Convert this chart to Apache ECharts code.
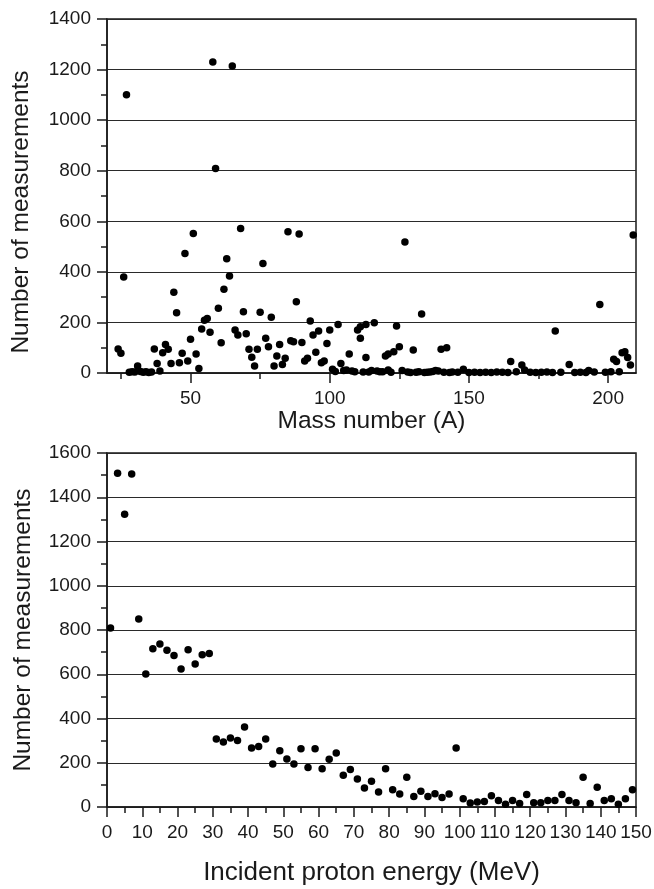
<!DOCTYPE html>
<html>
<head>
<meta charset="utf-8">
<script src="https://cdn.jsdelivr.net/npm/echarts@6/dist/echarts.min.js"></script>
<style>
  html, body { margin: 0; padding: 0; background: #fff; }
  #chart { width: 654px; height: 889px; }
</style>
</head>
<body>
<div id="chart"></div>
<script>
// Top panel: measurements per mass number
const massNumber = [
  24, 25, 26, 27, 28, 29, 30, 31, 32, 33, 34, 35, 36, 37, 38, 39, 40, 41, 42, 43,
  44, 45, 46, 47, 48, 49, 50, 51, 52, 53, 54, 55, 56, 57, 58, 59, 60, 61, 62, 63,
  64, 65, 66, 67, 68, 69, 70, 71, 72, 73, 74, 75, 76, 77, 78, 79, 80, 81, 82, 83,
  84, 85, 86, 87, 88, 89, 90, 91, 92, 93, 94, 95, 96, 97, 98, 99, 100, 101, 102, 103,
  104, 105, 106, 107, 108, 109, 110, 111, 111, 112, 113, 113, 114, 115, 116, 117, 118, 119, 120, 121,
  121, 122, 123, 124, 125, 126, 127, 128, 129, 130, 131, 132, 133, 134, 135, 136, 137, 138, 139, 140,
  141, 142, 143, 144, 146, 148, 150, 152, 154, 156, 158, 160, 162, 164, 165, 167, 169, 170, 172, 174,
  176, 178, 180, 181, 183, 186, 188, 190, 192, 193, 195, 197, 199, 201, 202, 203, 204, 205, 206, 207,
  208, 209
];
const massCount = [
  95, 78, 380, 1100, 3, 5, 4, 28, 6, 3, 5, 2, 4, 95, 38, 8, 80, 113, 94, 38,
  319, 238, 41, 78, 473, 47, 133, 552, 75, 18, 174, 209, 216, 161, 1230, 809, 256, 120, 331, 452,
  384, 1214, 170, 150, 571, 242, 155, 94, 62, 28, 94, 240, 433, 137, 104, 220, 28, 67, 113, 34,
  58, 559, 128, 124, 282, 550, 121, 47, 58, 206, 150, 82, 166, 41, 47, 117, 170, 15, 6, 192,
  38, 10, 12, 75, 8, 5, 170, 183, 137, 4, 192, 61, 4, 10, 199, 8, 5, 5, 67, 75,
  12, 3, 84, 186, 104, 10, 518, 4, 2, 91, 3, 5, 233, 2, 3, 4, 6, 10, 8, 94,
  3, 100, 2, 4, 3, 15, 2, 3, 2, 3, 2, 4, 3, 2, 45, 5, 32, 12, 3, 2,
  3, 4, 2, 166, 3, 34, 2, 3, 2, 10, 4, 271, 3, 5, 54, 45, 5, 80, 84, 61,
  32, 546
];

// Bottom panel: measurements per incident proton energy bin
const energy = [
  1, 3, 5, 7, 9, 11, 13, 15, 17, 19, 21, 23, 25, 27, 29, 31, 33, 35, 37, 39,
  41, 43, 45, 47, 49, 51, 53, 55, 57, 59, 61, 63, 65, 67, 69, 71, 73, 75, 77, 79,
  81, 83, 85, 87, 89, 91, 93, 95, 97, 99, 101, 103, 105, 107, 109, 111, 113, 115, 117, 119,
  121, 123, 125, 127, 129, 131, 133, 135, 137, 139, 141, 143, 145, 147, 149
];
const energyCount = [
  809, 1508, 1323, 1505, 850, 601, 715, 737, 708, 685, 624, 711, 646, 688, 694, 307, 294, 312, 301, 362,
  267, 274, 307, 194, 254, 217, 194, 263, 179, 263, 173, 216, 244, 143, 169, 127, 86, 116, 68, 173,
  78, 59, 134, 48, 71, 48, 60, 43, 59, 267, 37, 18, 23, 25, 51, 29, 12, 29, 16, 57,
  19, 19, 29, 29, 57, 29, 19, 134, 16, 89, 29, 37, 12, 37, 78
];

const massMajorTicks = [50, 100, 150, 200];
const massMinorTicks = [25, 75, 125, 175];

const FONT = 'Liberation Sans, Arial, sans-serif';
const INK = '#1a1a1a';

const axisLine = { show: true, lineStyle: { color: INK, width: 1.5 } };
const tickLabel = { color: INK, fontFamily: FONT, fontSize: 19, formatter: v => String(v) };
const gridLine = { show: true, lineStyle: { color: '#2a2a2a', width: 1.2 } };

const chart = echarts.init(document.getElementById('chart'), null, { renderer: 'canvas' });

chart.setOption({
  backgroundColor: '#fff',
  animation: false,
  grid: [
    { left: 107, right: 18, top: 19, height: 354, containLabel: false, outerBoundsMode: 'none',
      show: true, borderColor: INK, borderWidth: 1.5 },
    { left: 107, right: 18, top: 453, height: 354, containLabel: false, outerBoundsMode: 'none',
      show: true, borderColor: INK, borderWidth: 1.5 }
  ],
  xAxis: [
    {
      gridIndex: 0, type: 'value', min: 20, max: 210, position: 'bottom',
      axisLine: axisLine,
      axisTick: { show: true, customValues: massMajorTicks, length: 10, lineStyle: { color: INK, width: 1.5 } },
      axisLabel: Object.assign({ customValues: massMajorTicks, margin: 16 }, tickLabel),
      splitLine: { show: false },
      name: 'Mass number (A)', nameLocation: 'middle', nameGap: 35,
      nameTextStyle: { color: INK, fontFamily: FONT, fontSize: 24.5 }
    },
    {
      gridIndex: 0, type: 'value', min: 20, max: 210, position: 'bottom',
      axisLine: { show: false },
      axisTick: { show: true, customValues: massMinorTicks, length: 6, lineStyle: { color: INK, width: 1.5 } },
      axisLabel: { show: false },
      splitLine: { show: false }
    },
    {
      gridIndex: 1, type: 'value', min: 0, max: 150, interval: 10,
      axisLine: axisLine,
      axisTick: { show: true, length: 10, lineStyle: { color: INK, width: 1.5 } },
      minorTick: { show: true, splitNumber: 2, length: 6, lineStyle: { color: INK, width: 1.5 } },
      axisLabel: Object.assign({ margin: 16 }, tickLabel),
      splitLine: { show: false },
      name: 'Incident proton energy (MeV)', nameLocation: 'middle', nameGap: 53,
      nameTextStyle: { color: INK, fontFamily: FONT, fontSize: 26 }
    }
  ],
  yAxis: [
    {
      gridIndex: 0, type: 'value', min: 0, max: 1400, interval: 200,
      axisLine: axisLine,
      axisTick: { show: true, length: 10, lineStyle: { color: INK, width: 1.5 } },
      minorTick: { show: true, splitNumber: 2, length: 6, lineStyle: { color: INK, width: 1.5 } },
      axisLabel: Object.assign({ margin: 16 }, tickLabel),
      splitLine: gridLine,
      name: 'Number of measurements', nameLocation: 'middle', nameGap: 73,
      nameTextStyle: { color: INK, fontFamily: FONT, fontSize: 24.5, padding: [0, 32, 0, 0] }
    },
    {
      gridIndex: 1, type: 'value', min: 0, max: 1600, interval: 200,
      axisLine: axisLine,
      axisTick: { show: true, length: 10, lineStyle: { color: INK, width: 1.5 } },
      minorTick: { show: true, splitNumber: 2, length: 6, lineStyle: { color: INK, width: 1.5 } },
      axisLabel: Object.assign({ margin: 16 }, tickLabel),
      splitLine: gridLine,
      name: 'Number of measurements', nameLocation: 'middle', nameGap: 71,
      nameTextStyle: { color: INK, fontFamily: FONT, fontSize: 24.5 }
    }
  ],
  series: [
    {
      type: 'scatter', xAxisIndex: 0, yAxisIndex: 0,
      symbol: 'circle', symbolSize: 7.5, clip: false,
      itemStyle: { color: '#000', opacity: 1 },
      data: massNumber.map((a, i) => [a, massCount[i]])
    },
    {
      type: 'scatter', xAxisIndex: 2, yAxisIndex: 1,
      symbol: 'circle', symbolSize: 7.5, clip: false,
      itemStyle: { color: '#000', opacity: 1 },
      data: energy.map((e, i) => [e, energyCount[i]])
    }
  ]
});
</script>
</body>
</html>
